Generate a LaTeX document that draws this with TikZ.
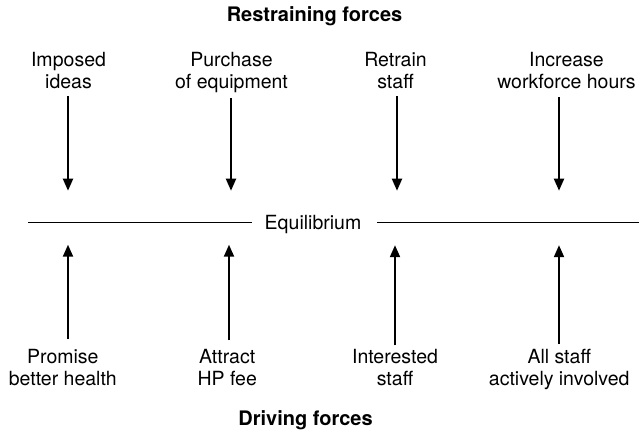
\documentclass[tikz,border=0pt]{standalone}
\usepackage{fontspec}
\setmainfont{TeX Gyre Heros}
\usetikzlibrary{arrows.meta}

\tikzset{
  label/.style={inner sep=0pt, align=center, anchor=north,
    font=\fontsize{19.5}{21.5}\selectfont},
  heading/.style={inner sep=0pt, anchor=base,
    font=\fontsize{20}{22}\selectfont\bfseries},
  force/.style={line width=2pt, -{Triangle[length=12pt,width=10pt]}},
  balance/.style={line width=1.4pt},
}

\begin{document}
\begin{tikzpicture}[x=1pt, y=-1pt]
  \useasboundingbox (0,0) rectangle (639,434);

  % headings
  \node[heading] (rest) at (314.5,21.7) {Restraining forces};
  \node[heading] (driv) at (305.5,425.7) {Driving forces};

  % equilibrium line
  \node[inner sep=0pt, anchor=base, font=\fontsize{19.5}{21.5}\selectfont]
    (eq) at (313,229.3) {Equilibrium};
  \coordinate (eL) at (28,222.3);
  \coordinate (eR) at (639,222.3);
  \draw[balance] (eL) -- ([xshift=-13pt]eq.west |- eL);
  \draw[balance] ([xshift=16pt]eq.east |- eR) -- (eR);

  % restraining forces (top)
  \node[label] (r1) at (68.5,51.6)  {\strut Imposed\\\strut ideas};
  \node[label] (r2) at (231.5,51.6) {\strut Purchase\\\strut of equipment};
  \node[label] (r3) at (395.5,51.6) {\strut Retrain\\\strut staff};
  \node[label] (r4) at (566.5,51.6) {\strut Increase\\\strut workforce hours};

  \coordinate (rt1) at (68,190.7);
  \coordinate (rt2) at (231,190.7);
  \coordinate (rt3) at (397,190.7);
  \coordinate (rt4) at (559,190.7);

  \draw[force] ([yshift=-1pt]rt1 |- r1.south) -- (rt1);
  \draw[force] ([yshift=-3pt]rt2 |- r2.south) -- (rt2);
  \draw[force] ([yshift=-1pt]rt3 |- r3.south) -- (rt3);
  \draw[force] ([yshift=-2pt]rt4 |- r4.south) -- (rt4);

  % driving forces (bottom)
  \node[label] (d1) at (62.8,348.4)  {\strut Promise\\\strut better health};
  \node[label] (d2) at (227.2,348.4) {\strut Attract\\\strut HP fee};
  \node[label] (d3) at (395.0,348.4) {\strut Interested\\\strut staff};
  \node[label] (d4) at (559.2,348.4) {\strut All staff\\\strut actively involved};

  \coordinate (dt1) at (68,244.7);
  \coordinate (dt2) at (229,244.7);
  \coordinate (dt3) at (395,245.2);
  \coordinate (dt4) at (559,245.2);

  \draw[force] ([yshift=9pt]dt1 |- d1.north) -- (dt1);
  \draw[force] ([yshift=8pt]dt2 |- d2.north) -- (dt2);
  \draw[force] ([yshift=3pt]dt3 |- d3.north) -- (dt3);
  \draw[force] ([yshift=4pt]dt4 |- d4.north) -- (dt4);
\end{tikzpicture}
\end{document}
